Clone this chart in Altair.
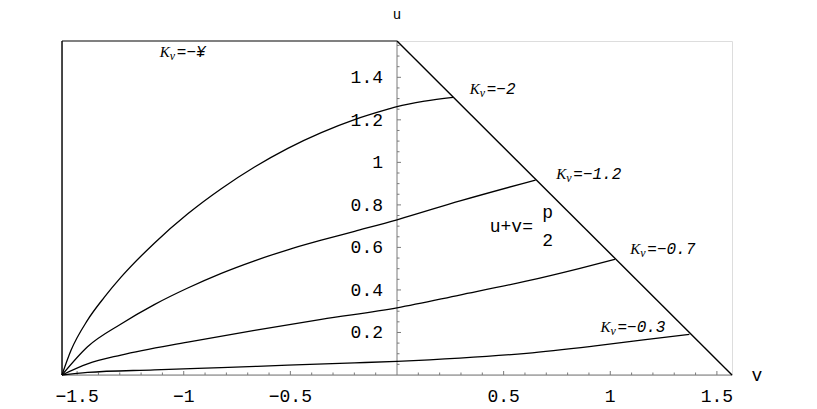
import math
import altair as alt
import pandas as pd

HALF_PI = math.pi / 2

# ---- curve data (v, u) ----
kv_labels = ["−2", "−1.2", "−0.7", "−0.3"]

v_kv2 = [-1.571, -1.529, -1.451, -1.372, -1.294, -1.138, -0.981, -0.824, -0.668,
         -0.512, -0.355, -0.199, -0.042, 0.0, 0.13, 0.263]
u_kv2 = [0.0, 0.115, 0.258, 0.366, 0.46, 0.62, 0.758, 0.876, 0.978,
         1.066, 1.140, 1.201, 1.250, 1.262, 1.288, 1.306]

v_kv12 = [-1.571, -1.451, -1.294, -1.138, -0.981, -0.824, -0.668, -0.512, -0.355,
          -0.199, 0.0, 0.3, 0.65]
u_kv12 = [0.0, 0.133, 0.240, 0.331, 0.409, 0.478, 0.537, 0.589, 0.634,
          0.676, 0.730, 0.820, 0.917]

v_kv07 = [-1.571, -1.451, -1.294, -0.981, -0.668, -0.355, 0.0, 0.294, 0.6, 0.858, 1.022]
u_kv07 = [0.0, 0.052, 0.094, 0.155, 0.21, 0.262, 0.316, 0.376, 0.44, 0.502, 0.544]

v_kv03 = [-1.571, -1.451, -1.138, -0.824, -0.512, -0.199, 0.0, 0.294, 0.607, 0.920, 1.155, 1.371]
u_kv03 = [0.0, 0.012, 0.024, 0.035, 0.046, 0.057, 0.064, 0.079, 0.102, 0.136, 0.165, 0.191]

# label anchors (v, u) for the K_v annotations
label_text = ["−¥", "−2", "−1.2", "−0.7", "−0.3"]
label_v = [-1.112, 0.341, 0.747, 1.094, 0.954]
label_u = [1.519, 1.345, 0.945, 0.593, 0.224]

# ticks
x_major = [-1.5, -1.0, -0.5, 0.5, 1.0, 1.5]
x_major_text = ["−1.5", "−1", "−0.5", "0.5", "1", "1.5"]
x_minor = [-1.4, -1.3, -1.2, -1.1, -0.9, -0.8, -0.7, -0.6, -0.4, -0.3, -0.2, -0.1,
           0.1, 0.2, 0.3, 0.4, 0.6, 0.7, 0.8, 0.9, 1.1, 1.2, 1.3, 1.4]
y_major = [0.2, 0.4, 0.6, 0.8, 1.0, 1.2, 1.4]
y_major_text = ["0.2", "0.4", "0.6", "0.8", "1", "1.2", "1.4"]
y_minor = [0.05, 0.1, 0.15, 0.25, 0.3, 0.35, 0.45, 0.5, 0.55, 0.65, 0.7, 0.75,
           0.85, 0.9, 0.95, 1.05, 1.1, 1.15, 1.25, 1.3, 1.35, 1.45, 1.5, 1.55]

# ---- tables ----
rows = []
for name, vs, us in [(kv_labels[0], v_kv2, u_kv2), (kv_labels[1], v_kv12, u_kv12),
                     (kv_labels[2], v_kv07, u_kv07), (kv_labels[3], v_kv03, u_kv03)]:
    for i, (v, u) in enumerate(zip(vs, us)):
        rows.append({"kv": name, "v": v, "u": u, "i": i})
curves = pd.DataFrame(rows)

black_segs = pd.DataFrame({
    "v": [-HALF_PI, 0.0], "u": [0.0, HALF_PI],
    "v2": [-HALF_PI, HALF_PI], "u2": [HALF_PI, 0.0]})
top_seg = pd.DataFrame({"v": [-HALF_PI], "u": [HALF_PI], "v2": [0.0], "u2": [HALF_PI]})
axis_segs = pd.DataFrame({
    "v": [-HALF_PI, 0.0], "u": [0.0, 0.0],
    "v2": [HALF_PI, 0.0], "u2": [0.0, HALF_PI]})

labels = pd.DataFrame({"t": label_text, "v": label_v, "u": label_u})
xmaj = pd.DataFrame({"v": x_major, "t": x_major_text})
xmin = pd.DataFrame({"v": x_minor})
ymaj = pd.DataFrame({"u": y_major, "t": y_major_text})
ymin = pd.DataFrame({"u": y_minor})

xs = alt.Scale(domain=[-HALF_PI, HALF_PI], nice=False, zero=False)
ys = alt.Scale(domain=[0, HALF_PI], nice=False, zero=False)


def X(f):
    return alt.X(f, type="quantitative", scale=xs, axis=None)


def Y(f):
    return alt.Y(f, type="quantitative", scale=ys, axis=None)


MONO = "Liberation Mono"
GRAY = "#7a7a7a"

seg_black = alt.Chart(black_segs).mark_rule(color="black", strokeWidth=1.4).encode(
    x=X("v"), y=Y("u"), x2="v2", y2="u2")
seg_top = alt.Chart(top_seg).mark_rule(color="#808080", strokeWidth=2).encode(
    x=X("v"), y=Y("u"), x2="v2", y2="u2")
seg_axes = alt.Chart(axis_segs).mark_rule(color=GRAY, strokeWidth=1).encode(
    x=X("v"), y=Y("u"), x2="v2", y2="u2")

xt_major = alt.Chart(xmaj).mark_rule(color=GRAY, strokeWidth=1, y2Offset=-4).encode(
    x=X("v"), y=alt.Y(datum=0, scale=ys, axis=None), y2=alt.Y2(datum=0))
xt_minor = alt.Chart(xmin).mark_rule(color=GRAY, strokeWidth=1, y2Offset=-2.5).encode(
    x=X("v"), y=alt.Y(datum=0, scale=ys, axis=None), y2=alt.Y2(datum=0))
yt_major = alt.Chart(ymaj).mark_rule(color=GRAY, strokeWidth=1, x2Offset=4).encode(
    y=Y("u"), x=alt.X(datum=0, scale=xs, axis=None), x2=alt.X2(datum=0))
yt_minor = alt.Chart(ymin).mark_rule(color=GRAY, strokeWidth=1, x2Offset=2.5).encode(
    y=Y("u"), x=alt.X(datum=0, scale=xs, axis=None), x2=alt.X2(datum=0))

xt_text = alt.Chart(xmaj).mark_text(font=MONO, fontSize=18, dy=27, color="black",
                                    align="center", baseline="alphabetic").encode(
    x=X("v"), y=alt.Y(datum=0, scale=ys, axis=None), text="t")
yt_text = alt.Chart(ymaj).mark_text(font=MONO, fontSize=18, dx=-14, dy=6, color="black",
                                    align="right", baseline="alphabetic").encode(
    y=Y("u"), x=alt.X(datum=0, scale=xs, axis=None), text="t")

u_lab = alt.Chart(pd.DataFrame({"t": ["u"]})).mark_text(
    font=MONO, fontSize=14, dy=-22, baseline="alphabetic").encode(
    x=alt.X(datum=0, scale=xs, axis=None), y=alt.Y(datum=HALF_PI, scale=ys, axis=None), text="t")
v_lab = alt.Chart(pd.DataFrame({"t": ["v"]})).mark_text(
    font=MONO, fontSize=18, dx=25, dy=6, baseline="alphabetic").encode(
    x=alt.X(datum=HALF_PI, scale=xs, axis=None), y=alt.Y(datum=0, scale=ys, axis=None), text="t")

lines = alt.Chart(curves).mark_line(color="black", strokeWidth=1.3, interpolate="monotone").encode(
    x=X("v"), y=Y("u"), detail="kv:N", order="i:Q")

k_text = alt.Chart(labels).mark_text(font="Liberation Serif", fontStyle="italic", fontSize=15,
                                     align="left", baseline="alphabetic", dy=5,
                                     color="black").encode(
    x=X("v"), y=Y("u"), text=alt.value("K"))
sub_text = alt.Chart(labels).mark_text(font="Liberation Serif", fontStyle="italic", fontSize=12,
                                       align="left", baseline="alphabetic", dx=10, dy=8,
                                       color="black").encode(
    x=X("v"), y=Y("u"), text=alt.value("v"))
eq_text = alt.Chart(labels).transform_calculate(s="'=' + datum.t").mark_text(
    font=MONO, fontStyle="italic", fontSize=16, align="left", baseline="alphabetic",
    dx=17, dy=5, color="black").encode(x=X("v"), y=Y("u"), text="s:N")

sum_anchor = pd.DataFrame({"v": [0.435], "u": [0.698]})
sum_text = alt.Chart(sum_anchor).mark_text(font=MONO, fontSize=18, align="left",
                                           baseline="alphabetic", dy=5, color="black").encode(
    x=X("v"), y=Y("u"), text=alt.value("u+v="))
p_text = alt.Chart(sum_anchor).mark_text(font=MONO, fontSize=18, align="center",
                                         baseline="alphabetic", dx=58, dy=-9,
                                         color="black").encode(
    x=X("v"), y=Y("u"), text=alt.value("p"))
two_text = alt.Chart(sum_anchor).mark_text(font=MONO, fontSize=18, align="center",
                                           baseline="alphabetic", dx=58, dy=19,
                                           color="black").encode(
    x=X("v"), y=Y("u"), text=alt.value("2"))

chart = alt.layer(
    seg_axes, xt_major, xt_minor, yt_major, yt_minor, seg_top, seg_black, lines,
    xt_text, yt_text, u_lab, v_lab, k_text, sub_text, eq_text, sum_text, p_text, two_text
).properties(
    width=670, height=334,
    autosize=alt.AutoSizeParams(type="none"),
    padding={"left": 54, "top": 33, "right": 77, "bottom": 34},
).configure_view(stroke=None).configure(background="white")

chart.save("out.html", embed_options={"renderer": "svg", "actions": False})
